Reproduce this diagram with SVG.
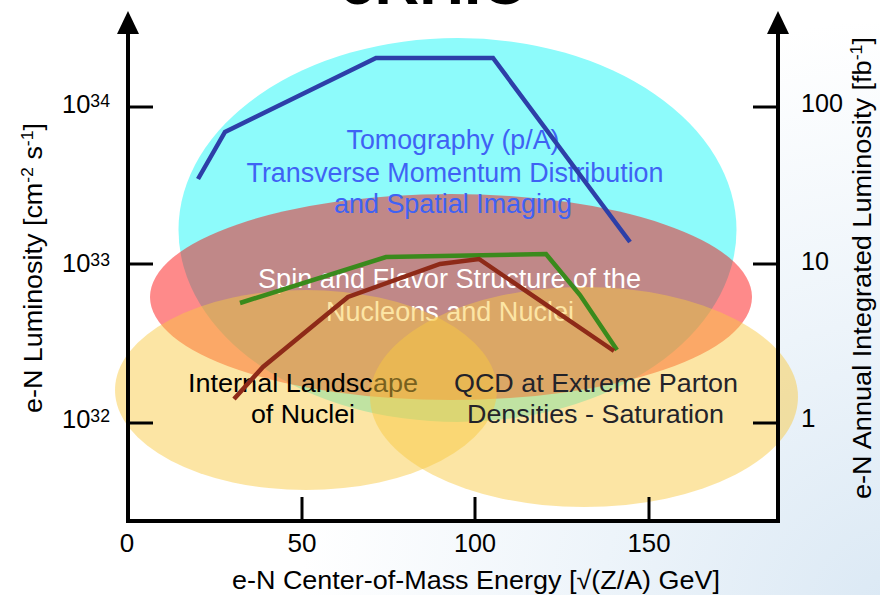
<svg xmlns="http://www.w3.org/2000/svg" width="880" height="595" viewBox="0 0 880 595">
<defs>
<radialGradient id="bg" gradientUnits="userSpaceOnUse" cx="900" cy="620" r="600">
<stop offset="0" stop-color="#DAE8F4"/>
<stop offset="0.5" stop-color="#EDF4FA"/>
<stop offset="1" stop-color="#FFFFFF"/>
</radialGradient>
</defs>
<style>
text{font-family:"Liberation Sans",Arial,Helvetica,sans-serif}
.tick{stroke:#000;stroke-width:3;fill:none}
.axis{stroke:#000;stroke-width:4;fill:none}
.num{font-size:26px;fill:#000}
.sup{font-size:18px}
.lab{font-size:26px;fill:#000}
.blue{font-size:27px;fill:#3F62F4;text-anchor:middle}
.white{font-size:27px;fill:#FFFFFF;text-anchor:middle}
.dark{font-size:26px;text-anchor:middle}
.curve{fill:none;stroke-width:4.5;stroke-linejoin:miter;stroke-linecap:butt}
</style>
<rect x="0" y="0" width="880" height="595" fill="url(#bg)"/>
<rect x="128" y="33" width="650" height="488" fill="#FFFFFF"/>
<text x="433" y="4" font-size="62" font-weight="bold" text-anchor="middle" fill="#000">eRHIC</text>

<g id="tomography">
<ellipse cx="457.5" cy="230" rx="279" ry="192" fill="#8DFBFB"/>
</g>
<g id="spin-flavor">
<ellipse cx="451" cy="297" rx="301" ry="103" fill="#FD0000" fill-opacity="0.46"/>
</g>
<g id="tomography-label">
<text class="blue" x="453" y="149" textLength="213" lengthAdjust="spacingAndGlyphs">Tomography (p/A)</text>
<text class="blue" x="455" y="182" textLength="417" lengthAdjust="spacingAndGlyphs">Transverse Momentum Distribution</text>
<text class="blue" x="453" y="213" textLength="238" lengthAdjust="spacingAndGlyphs">and Spatial Imaging</text>
</g>
<g id="spin-flavor-label">
<text class="white" x="449.5" y="288" textLength="383" lengthAdjust="spacingAndGlyphs">Spin and Flavor Structure of the</text>
<text class="white" x="450" y="321" textLength="248" lengthAdjust="spacingAndGlyphs">Nucleons and Nuclei</text>
</g>
<g id="internal-landscape">
<ellipse cx="306" cy="390" rx="191" ry="100" fill="#F8C840" fill-opacity="0.48"/>
<text class="dark" x="303" y="392" fill="#000" textLength="230" lengthAdjust="spacingAndGlyphs">Internal Landscape</text>
<text class="dark" x="303" y="423" fill="#000" textLength="104" lengthAdjust="spacingAndGlyphs">of Nuclei</text>
</g>
<g id="saturation">
<ellipse cx="584" cy="397" rx="214" ry="110" fill="#F8C840" fill-opacity="0.48"/>
<text class="dark" x="596" y="392" fill="#23232A" textLength="284" lengthAdjust="spacingAndGlyphs">QCD at Extreme Parton</text>
<text class="dark" x="595.5" y="423" fill="#23232A" textLength="257" lengthAdjust="spacingAndGlyphs">Densities - Saturation</text>
</g>

<g id="connectors">
<polyline class="curve" stroke="#2D3FA8" points="198,179 225,132 376,58 493,58 630,242"/>
<polyline class="curve" stroke="#3A8A1C" points="240,303 386,257 546,254 580,295 617,350"/>
<polyline class="curve" stroke="#8E2A18" points="234,399 263,367 348,297 440,264 479,259 614,351"/>
</g>

<g id="axes">
<line class="axis" x1="128" y1="32" x2="128" y2="523"/>
<line class="axis" x1="126" y1="521" x2="780" y2="521"/>
<line class="axis" x1="778" y1="32" x2="778" y2="523"/>
<polygon points="128,11 117,34 139,34" fill="#000"/>
<polygon points="778,11 767,34 789,34" fill="#000"/>
<line class="tick" x1="128" y1="107" x2="153" y2="107"/>
<line class="tick" x1="128" y1="264" x2="153" y2="264"/>
<line class="tick" x1="128" y1="423" x2="153" y2="423"/>
<line class="tick" x1="753" y1="107" x2="778" y2="107"/>
<line class="tick" x1="753" y1="264" x2="778" y2="264"/>
<line class="tick" x1="753" y1="423" x2="778" y2="423"/>
<line class="tick" x1="302" y1="497" x2="302" y2="521"/>
<line class="tick" x1="475" y1="497" x2="475" y2="521"/>
<line class="tick" x1="649" y1="497" x2="649" y2="521"/>
</g>
<g id="tick-labels">
<text class="num" x="62" y="113" textLength="48" lengthAdjust="spacingAndGlyphs">10<tspan class="sup" dy="-6">34</tspan></text>
<text class="num" x="62" y="272" textLength="48" lengthAdjust="spacingAndGlyphs">10<tspan class="sup" dy="-6">33</tspan></text>
<text class="num" x="62" y="428" textLength="48" lengthAdjust="spacingAndGlyphs">10<tspan class="sup" dy="-6">32</tspan></text>
<text class="num" x="801" y="112" textLength="42" lengthAdjust="spacingAndGlyphs">100</text>
<text class="num" x="801" y="270" textLength="28" lengthAdjust="spacingAndGlyphs">10</text>
<text class="num" x="801" y="427">1</text>
<text class="num" x="127" y="552" text-anchor="middle">0</text>
<text class="num" x="302" y="552" text-anchor="middle" textLength="29" lengthAdjust="spacingAndGlyphs">50</text>
<text class="num" x="475" y="552" text-anchor="middle" textLength="42" lengthAdjust="spacingAndGlyphs">100</text>
<text class="num" x="649" y="552" text-anchor="middle" textLength="43" lengthAdjust="spacingAndGlyphs">150</text>
</g>
<g id="axis-titles">
<text class="lab" x="476" y="589" text-anchor="middle" textLength="488" lengthAdjust="spacingAndGlyphs">e-N Center-of-Mass Energy [√(Z/A) GeV]</text>
<text class="lab" transform="translate(42,268) rotate(-90)" text-anchor="middle" textLength="290" lengthAdjust="spacingAndGlyphs">e-N Luminosity [cm<tspan font-size="17" dy="-9">-2</tspan><tspan dy="9"> s</tspan><tspan font-size="17" dy="-9">-1</tspan><tspan dy="9">]</tspan></text>
<text class="lab" transform="translate(871,268) rotate(-90)" text-anchor="middle" textLength="462" lengthAdjust="spacingAndGlyphs">e-N Annual Integrated Luminosity [fb<tspan font-size="17" dy="-9">-1</tspan><tspan dy="9">]</tspan></text>
</g>
</svg>
